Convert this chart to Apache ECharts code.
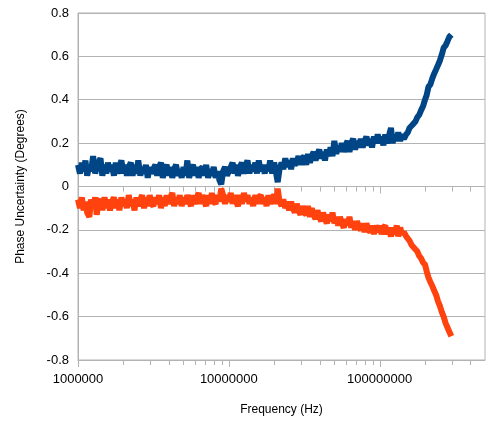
<!DOCTYPE html>
<html>
<head>
<meta charset="utf-8">
<script src="https://cdn.jsdelivr.net/npm/echarts@6/dist/echarts.min.js"></script>
<style>
html,body{margin:0;padding:0;background:#fff;}
#chart{width:489px;height:421px;}
</style>
</head>
<body>
<div id="chart"></div>
<script>
// Frequencies in MHz (log-spaced sweep points)
var freqMHz = [
  1.00,1.03,1.06,1.09,1.12,1.15,1.19,1.22,1.26,1.30,1.33,1.37,1.41,1.45,1.50,1.54,1.58,1.63,1.68,1.73,
  1.78,1.83,1.88,1.94,2.00,2.05,2.11,2.17,2.24,2.30,2.37,2.44,2.51,2.59,2.66,2.74,2.82,2.90,2.99,3.07,
  3.16,3.26,3.35,3.45,3.55,3.65,3.76,3.87,3.98,4.10,4.22,4.34,4.47,4.60,4.73,4.87,5.01,5.16,5.31,5.46,
  5.62,5.79,5.96,6.13,6.31,6.49,6.68,6.88,7.08,7.29,7.50,7.72,7.94,8.18,8.41,8.66,8.91,9.17,9.44,9.72,
  10.0,10.3,10.6,10.9,11.2,11.5,11.9,12.2,12.6,13.0,13.3,13.7,14.1,14.5,15.0,15.4,15.8,16.3,16.8,17.3,
  17.8,18.3,18.8,19.4,20.0,20.5,21.1,21.7,22.4,23.0,23.7,24.4,25.1,25.9,26.6,27.4,28.2,29.0,29.9,30.7,
  31.6,32.6,33.5,34.5,35.5,36.5,37.6,38.7,39.8,41.0,42.2,43.4,44.7,46.0,47.3,48.7,50.1,51.6,53.1,54.6,
  56.2,57.9,59.6,61.3,63.1,64.9,66.8,68.8,70.8,72.9,75.0,77.2,79.4,81.8,84.1,86.6,89.1,91.7,94.4,97.2,
  100,103,106,109,112,115,119,122,126,130,133,137,141,145,150,154,158,163,168,173,
  178,183,188,194,200,205,211,217,224,230,237,244,251,259,266,274,282,290,299
];
var upperUnc = [
  0.10,0.06,0.11,0.07,0.12,0.05,0.10,0.07,0.14,0.06,0.09,0.11,0.13,0.05,0.10,0.06,0.11,0.07,0.10,0.05,
  0.11,0.06,0.09,0.12,0.06,0.10,0.05,0.09,0.11,0.05,0.10,0.06,0.12,0.05,0.09,0.06,0.10,0.04,0.09,0.06,
  0.08,0.10,0.05,0.09,0.11,0.04,0.08,0.10,0.05,0.09,0.04,0.08,0.10,0.05,0.08,0.04,0.09,0.05,0.12,0.04,
  0.08,0.10,0.05,0.09,0.04,0.08,0.09,0.05,0.10,0.04,0.08,0.05,0.09,0.04,0.07,0.03,0.01,0.07,0.09,0.05,
  0.07,0.09,0.11,0.06,0.10,0.05,0.09,0.11,0.06,0.10,0.12,0.06,0.10,0.07,0.11,0.06,0.12,0.07,0.10,0.06,
  0.10,0.07,0.12,0.06,0.11,0.07,0.02,0.08,0.11,0.08,0.13,0.09,0.12,0.08,0.13,0.10,0.11,0.14,0.10,0.13,
  0.14,0.10,0.15,0.11,0.14,0.16,0.12,0.15,0.17,0.13,0.16,0.12,0.17,0.14,0.18,0.14,0.21,0.15,0.19,0.16,
  0.20,0.16,0.19,0.21,0.16,0.20,0.22,0.17,0.21,0.18,0.22,0.18,0.21,0.23,0.19,0.22,0.18,0.23,0.20,0.24,
  0.20,0.23,0.19,0.24,0.20,0.23,0.27,0.20,0.24,0.21,0.25,0.21,0.24,0.22,0.24,0.25,0.27,0.28,0.29,0.30,
  0.32,0.33,0.35,0.37,0.40,0.42,0.46,0.47,0.50,0.52,0.54,0.56,0.58,0.61,0.64,0.65,0.67,0.69,0.70
];
var lowerUnc = [
  -0.06,-0.10,-0.05,-0.11,-0.07,-0.12,-0.14,-0.06,-0.10,-0.05,-0.13,-0.07,-0.06,-0.11,-0.05,-0.10,-0.06,-0.11,-0.07,-0.05,
  -0.10,-0.06,-0.11,-0.05,-0.09,-0.06,-0.10,-0.04,-0.09,-0.06,-0.11,-0.05,-0.09,-0.06,-0.04,-0.10,-0.05,-0.09,-0.04,-0.08,
  -0.09,-0.05,-0.08,-0.04,-0.10,-0.05,-0.09,-0.04,-0.08,-0.05,-0.03,-0.09,-0.05,-0.08,-0.04,-0.09,-0.05,-0.08,-0.04,-0.07,
  -0.09,-0.04,-0.08,-0.05,-0.03,-0.08,-0.04,-0.07,-0.09,-0.04,-0.08,-0.03,-0.07,-0.08,-0.04,-0.07,-0.01,-0.04,-0.08,-0.04,
  -0.07,-0.03,-0.08,-0.04,-0.07,-0.09,-0.04,-0.08,-0.03,-0.07,-0.04,-0.08,-0.05,-0.09,-0.04,-0.08,-0.05,-0.04,-0.08,-0.05,
  -0.09,-0.04,-0.08,-0.05,-0.04,-0.08,-0.01,-0.07,-0.09,-0.06,-0.10,-0.07,-0.11,-0.07,-0.10,-0.12,-0.08,-0.11,-0.13,-0.09,
  -0.12,-0.13,-0.09,-0.14,-0.10,-0.13,-0.15,-0.11,-0.14,-0.16,-0.12,-0.15,-0.17,-0.13,-0.16,-0.12,-0.17,-0.14,-0.18,-0.14,
  -0.17,-0.19,-0.15,-0.18,-0.14,-0.19,-0.16,-0.20,-0.16,-0.19,-0.20,-0.17,-0.21,-0.17,-0.20,-0.21,-0.18,-0.22,-0.18,-0.21,
  -0.18,-0.22,-0.19,-0.18,-0.22,-0.19,-0.23,-0.19,-0.22,-0.18,-0.23,-0.19,-0.22,-0.21,-0.23,-0.24,-0.25,-0.27,-0.28,-0.29,
  -0.30,-0.32,-0.33,-0.35,-0.36,-0.39,-0.42,-0.44,-0.46,-0.48,-0.50,-0.53,-0.55,-0.58,-0.60,-0.63,-0.65,-0.67,-0.69
];
var majorTicks = [1e6, 1e7, 1e8];
var minorTicks = [2e6,3e6,4e6,5e6,6e6,7e6,8e6,9e6,2e7,3e7,4e7,5e7,6e7,7e7,8e7,9e7,2e8,3e8,4e8];
var tickRows = [0, -0.8];

var freqHz = freqMHz.map(function(f){ return f * 1e6; });
function pairs(ys){ return freqHz.map(function(f, i){ return [f, ys[i]]; }); }

var tickData = [];
tickRows.forEach(function(row){
  majorTicks.forEach(function(v){ tickData.push([v, row, 7]); });
  minorTicks.forEach(function(v){ tickData.push([v, row, 5]); });
});

var FONT = 'Liberation Sans, Arial, sans-serif';
var GRID = '#b3b3b3';
var chart = echarts.init(document.getElementById('chart'), null, {renderer: 'canvas'});
chart.setOption({
  animation: false,
  backgroundColor: '#ffffff',
  grid: {left: 78, top: 13, width: 407, height: 347, show: true, borderColor: GRID, borderWidth: 1, containLabel: false},
  xAxis: {
    type: 'log', logBase: 10, min: 1e6, max: 5e8,
    name: 'Frequency (Hz)', nameLocation: 'middle', nameGap: 44,
    nameTextStyle: {fontFamily: FONT, fontSize: 12, color: '#000'},
    axisLine: {onZero: false, lineStyle: {color: GRID}},
    axisTick: {show: false},
    splitLine: {show: false},
    axisLabel: {
      fontFamily: FONT, fontSize: 13, color: '#000', margin: 13, showMaxLabel: false,
      formatter: function(v){ return String(Math.round(v)); }
    }
  },
  yAxis: {
    type: 'value', min: -0.8, max: 0.8, interval: 0.2,
    name: 'Phase Uncertainty (Degrees)', nameLocation: 'middle', nameGap: 51,
    nameTextStyle: {fontFamily: FONT, fontSize: 12, color: '#000'},
    axisLine: {show: true, lineStyle: {color: GRID}},
    axisTick: {show: false},
    splitLine: {show: true, lineStyle: {color: GRID, width: 1}},
    axisLabel: {
      fontFamily: FONT, fontSize: 13, color: '#000', margin: 9,
      formatter: function(v){ var r = Math.round(v * 10) / 10; return r === 0 ? '0' : String(r); }
    }
  },
  series: [
    {
      type: 'custom', silent: true, clip: false, z: 1,
      data: tickData,
      renderItem: function(params, api){
        var p = api.coord([api.value(0), api.value(1)]);
        var len = api.value(2);
        return {type: 'line', shape: {x1: Math.round(p[0]) + 0.5, y1: p[1], x2: Math.round(p[0]) + 0.5, y2: p[1] + len},
                style: {stroke: GRID, lineWidth: 1}};
      }
    },
    {
      name: 'upper', type: 'line', data: pairs(upperUnc), showSymbol: false, z: 3,
      lineStyle: {color: '#004586', width: 6}, itemStyle: {color: '#004586'}
    },
    {
      name: 'lower', type: 'line', data: pairs(lowerUnc), showSymbol: false, z: 3,
      lineStyle: {color: '#ff420e', width: 6}, itemStyle: {color: '#ff420e'}
    }
  ]
});
</script>
</body>
</html>
